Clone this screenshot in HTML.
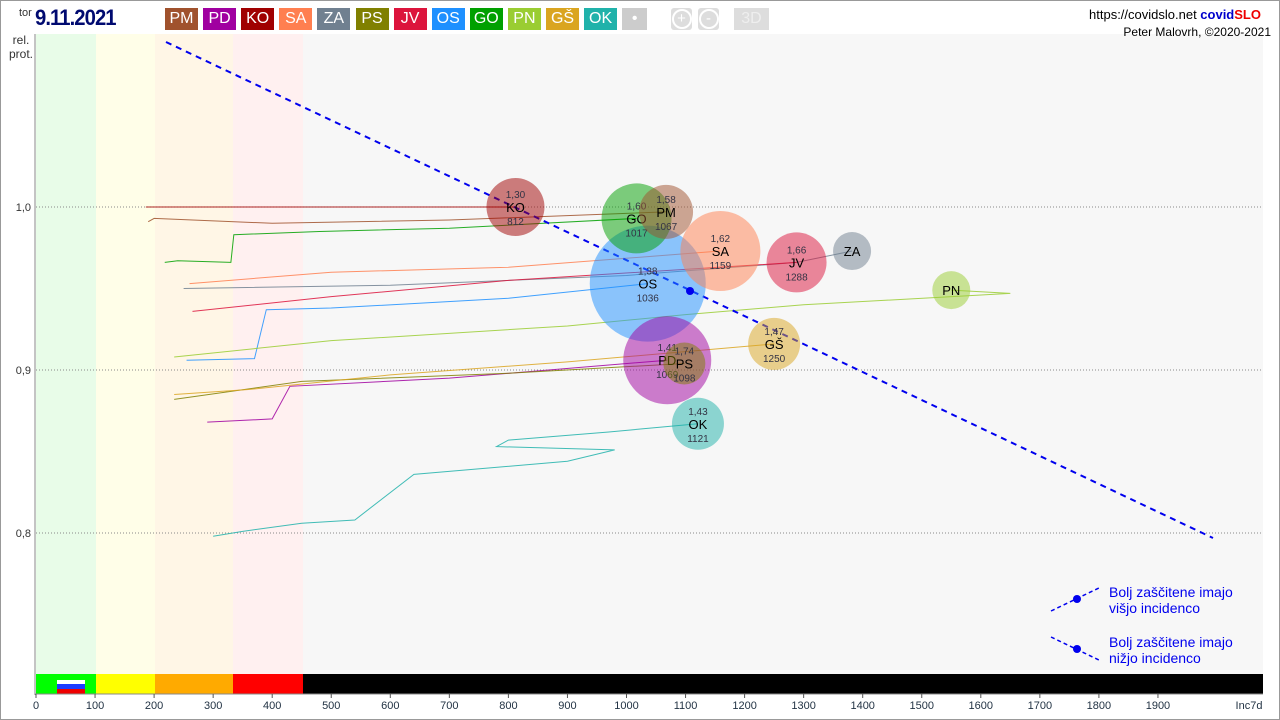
<!DOCTYPE html>
<html><head><meta charset="utf-8"><style>
body{margin:0;background:#fff;font-family:"Liberation Sans",sans-serif}
#wrap{position:relative;width:1278px;height:718px;border:1px solid #999;overflow:hidden}
.btn{position:absolute;top:7px;height:22px;color:#fff;font:16px "Liberation Sans",sans-serif;text-align:center;line-height:22px;z-index:2}
.top{position:absolute;z-index:2}
</style></head><body>
<div id="wrap">
<svg id="c" width="1278" height="718" style="position:absolute;left:0;top:0;z-index:1"></svg>
<div class="top" style="left:18px;top:6px;font-size:11px;color:#333">tor</div>
<div class="top" style="left:34px;top:4px;font-size:22px;font-weight:bold;color:#000a70;letter-spacing:-1px;transform:scaleX(0.92);transform-origin:left">9.11.2021</div>
<div id="btns"></div>
<div class="top" style="right:18px;top:6px;font-size:13px;color:#000">https://covidslo.net <b style="color:#0000cc">covid<span style="color:#e00">SLO</span></b></div>
<div class="top" style="right:8px;top:24px;font-size:12px;color:#000;line-height:14px">Peter Malovrh, ©2020-2021</div>
<div class="top" style="left:8px;top:32px;font-size:12px;color:#333;text-align:center;line-height:14px">rel.<br>prot.</div>
</div>
<script>
const names=["PM","PD","KO","SA","ZA","PS","JV","OS","GO","PN","GŠ","OK"];
const colors=["#a0522d","#a000a0","#a00000","#ff7f50","#708090","#808000","#dc143c","#1e90ff","#00a000","#9acd32","#daa520","#20b2aa"];
const bubbleInc=[1067,1069,812,1159,1382,1098,1288,1036,1017,1550,1250,1121];
const bubbleRel=[0.997,0.906,1.0,0.973,0.973,0.904,0.966,0.953,0.993,0.949,0.916,0.867];
const bubbleR=[27,44,29,40,19,21,30,58,35,19,26,26];
const bubbleVal=["1,58","1,41","1,30","1,62","","1,74","1,66","1,38","1,60","","1,47","1,43"];
const trails={
PM:[[190,0.991],[200,0.993],[400,0.990],[700,0.992],[1067,0.997]],
PD:[[290,0.868],[400,0.870],[430,0.890],[700,0.895],[1069,0.906]],
KO:[[186,1.0],[812,1.0]],
SA:[[260,0.953],[500,0.960],[800,0.963],[1159,0.973]],
ZA:[[250,0.950],[600,0.952],[1000,0.958],[1288,0.966],[1382,0.973]],
PS:[[234,0.882],[450,0.893],[800,0.898],[1098,0.904]],
JV:[[265,0.936],[500,0.945],[800,0.955],[1288,0.966]],
OS:[[255,0.906],[370,0.907],[390,0.937],[500,0.938],[800,0.944],[1036,0.953]],
GO:[[218,0.966],[240,0.967],[330,0.966],[335,0.983],[480,0.985],[700,0.987],[1017,0.993]],
PN:[[234,0.908],[500,0.918],[900,0.927],[1100,0.934],[1300,0.940],[1650,0.947],[1550,0.949]],
"GŠ":[[234,0.885],[360,0.888],[600,0.897],[900,0.905],[1250,0.916]],
OK:[[300,0.798],[350,0.801],[450,0.806],[540,0.808],[640,0.836],[900,0.844],[980,0.851],[780,0.853],[800,0.857],[970,0.862],[1121,0.867]]
};
const xTicks=[0,100,200,300,400,500,600,700,800,900,1000,1100,1200,1300,1400,1500,1600,1700,1800,1900];
const yTicks=[1.0,0.9,0.8];
const yTickLabels=["1,0","0,9","0,8"];
const X=v=>35+v*0.5905, Y=v=>206+(1.0-v)*1630;
const ns="http://www.w3.org/2000/svg", svg=document.getElementById('c');
function mk(t,a,p){const e=document.createElementNS(ns,t);for(const k in a)e.setAttribute(k,a[k]);(p||svg).appendChild(e);return e;}
const bw=document.getElementById('btns');
const labels=names.concat(["•"]);
labels.forEach((n,i)=>{const d=document.createElement('div');d.className='btn';d.style.left=(164+i*38.1)+'px';d.style.width=(i<12?33:25)+'px';d.style.background=i<12?colors[i]:'#ccc';d.textContent=n;


bw.appendChild(d);});
[["+",670],["-",697]].forEach(([t,l])=>{const d=document.createElement('div');d.className='btn';d.style.cssText+='left:'+l+'px;width:21px;background:#ddd;border-radius:3px';d.innerHTML='<span style="display:inline-block;width:16px;height:16px;border:2px solid #fff;border-radius:50%;line-height:16px;font-size:15px">'+t+'</span>';


bw.appendChild(d);});
const d3=document.createElement('div');d3.className='btn';d3.style.cssText+='left:733px;width:35px;background:#ddd;color:#eee';d3.textContent='3D';


bw.appendChild(d3);
const zones=[[35,95,"#e8fce8"],[95,154,"#fffee8"],[154,232,"#fff6e6"],[232,302,"#fff0f0"],[302,1262,"#f7f7f7"]];
zones.forEach(z=>{const r=mk('rect',{x:z[0],y:33,width:z[1]-z[0],height:640,fill:z[2]});});
const strip=[[35,95,"#00ff00"],[95,154,"#ffff00"],[154,232,"#ffaa00"],[232,302,"#ff0000"],[302,1262,"#000"]];
strip.forEach(z=>{const r=mk('rect',{x:z[0],y:673,width:z[1]-z[0],height:20,fill:z[2]});});
mk('rect',{x:56,y:679,width:28,height:7,fill:'#fff'});mk('rect',{x:56,y:683,width:28,height:5,fill:'#1e3cff'});mk('rect',{x:56,y:688,width:28,height:5,fill:'#e00'});
mk('line',{x1:34,y1:33,x2:34,y2:694,stroke:'#888'});
mk('line',{x1:34,y1:693,x2:1262,y2:693,stroke:'#888'});
yTicks.forEach((v,i)=>{const l=mk('line',{x1:35,y1:Y(v),x2:1262,y2:Y(v),stroke:'#888','stroke-dasharray':'1,2'});
const t=mk('text',{x:30,y:Y(v)+4,'text-anchor':'end','font-size':11,fill:'#333'});t.textContent=yTickLabels[i];});
xTicks.forEach(v=>{mk('line',{x1:X(v),y1:693,x2:X(v),y2:697,stroke:'#555'});const t=mk('text',{x:X(v),y:708,'text-anchor':'middle','font-size':11,fill:'#234'});t.textContent=v;});
const xt=mk('text',{x:1248,y:708,'text-anchor':'middle','font-size':11,fill:'#234'});xt.textContent='Inc7d';
names.forEach((n,i)=>{const p=mk('polyline',{points:trails[n].map(q=>X(q[0])+','+Y(q[1])).join(' '),fill:'none',stroke:colors[i],'stroke-width':1,opacity:0.85});});
const dl=mk('line',{x1:165,y1:41,x2:1212,y2:537,stroke:'#0000ee','stroke-width':2,'stroke-dasharray':'6,5'});
const order=[7,1,3,8,0,6,4,2,9,10,5,11];
order.forEach(i=>{const g=mk('g',{});
const cx=X(bubbleInc[i]),cy=Y(bubbleRel[i]);
mk('circle',{cx,cy,r:bubbleR[i],fill:colors[i],opacity:0.5},g);
const t=mk('text',{x:cx,y:cy+5,'text-anchor':'middle','font-size':13,fill:'#000'},g);t.textContent=names[i];
if(bubbleVal[i]){const a=mk('text',{x:cx,y:cy-9,'text-anchor':'middle','font-size':10,fill:'#334'},g);a.textContent=bubbleVal[i];
const b=mk('text',{x:cx,y:cy+18,'text-anchor':'middle','font-size':10,fill:'#334'},g);b.textContent=bubbleInc[i];}
});
mk('circle',{cx:689,cy:290,r:4,fill:'#0000ee'});
[[598,"Bolj  zaščitene imajo","višjo incidenco",1],[648,"Bolj  zaščitene imajo","nižjo incidenco",-1]].forEach(([y,a,b,s])=>{
const g=mk('g',{});
mk('line',{x1:1050,y1:y+12*s,x2:1100,y2:y-12*s,stroke:'#0000ee','stroke-width':1.5,'stroke-dasharray':'4,3'},g);
mk('circle',{cx:1076,cy:y,r:4,fill:'#0000ee'},g);
const t1=mk('text',{x:1108,y:y-2,'font-size':14,fill:'#0000ee'},g);t1.textContent=a;
const t2=mk('text',{x:1108,y:y+14,'font-size':14,fill:'#0000ee'},g);t2.textContent=b;});
</script>
</body></html>
